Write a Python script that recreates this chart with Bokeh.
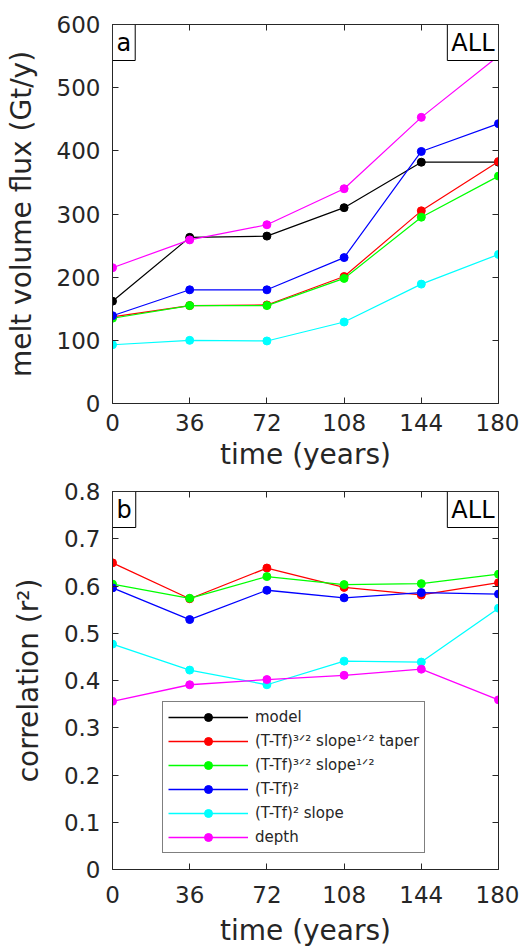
from bokeh.plotting import figure
from bokeh.layouts import column
from bokeh.models import Legend, LegendItem, LinearAxis, Label, FixedTicker, Range1d, ColumnDataSource
from bokeh.embed import file_html
from bokeh.resources import INLINE

# ---------------- data ----------------
time_years = [0, 36, 72, 108, 144, 180]
x_ticks = [0, 36, 72, 108, 144, 180]
flux_ticks = [0, 100, 200, 300, 400, 500, 600]
corr_ticks = [0, 0.1, 0.2, 0.3, 0.4, 0.5, 0.6, 0.7, 0.8]

series_names = [
    "model",
    "(T-Tf)³ᐟ² slope¹ᐟ² taper",
    "(T-Tf)³ᐟ² slope¹ᐟ²",
    "(T-Tf)²",
    "(T-Tf)² slope",
    "depth",
]
series_colors = ["#000000", "#FF0000", "#00FF00", "#0000FF", "#00FFFF", "#FF00FF"]

flux_model = [162, 263, 265, 310, 382, 382]
flux_t32_s12_taper = [137, 155, 156, 201, 305, 383]
flux_t32_s12 = [135, 155, 155, 198, 295, 360]
flux_t2 = [139, 180, 180, 231, 399, 443]
flux_t2_slope = [93, 100, 99, 129, 189, 236]
flux_depth = [215, 259, 283, 340, 453, 550]

corr_model = [1.0, 1.0, 1.0, 1.0, 1.0, 1.0]  # model vs itself, above the axis range
corr_t32_s12_taper = [0.649, 0.573, 0.638, 0.597, 0.581, 0.607]
corr_t32_s12 = [0.604, 0.574, 0.620, 0.603, 0.605, 0.625]
corr_t2 = [0.596, 0.529, 0.591, 0.575, 0.586, 0.583]
corr_t2_slope = [0.477, 0.422, 0.391, 0.441, 0.439, 0.553]
corr_depth = [0.356, 0.391, 0.402, 0.411, 0.424, 0.359]

flux_series = [flux_model, flux_t32_s12_taper, flux_t32_s12, flux_t2, flux_t2_slope, flux_depth]
corr_series = [corr_model, corr_t32_s12_taper, corr_t32_s12, corr_t2, corr_t2_slope, corr_depth]

FONT = "DejaVu Sans"
TXT = "#262626"
TICK_FS = "23px"
LABEL_FS = "28px"


def style_axes(p, ylabel, yticks, x_std, x_lab_std):
    p.xaxis.ticker = FixedTicker(ticks=x_ticks)
    p.yaxis.ticker = FixedTicker(ticks=yticks)
    for ax in p.xaxis + p.yaxis:
        ax.major_tick_in = 6
        ax.major_tick_out = 0
        ax.minor_tick_line_color = None
        ax.axis_line_color = TXT
        ax.major_tick_line_color = TXT
        ax.major_label_text_font = FONT
        ax.major_label_text_font_size = TICK_FS
        ax.major_label_text_color = TXT
        ax.axis_label_text_font = FONT
        ax.axis_label_text_font_size = LABEL_FS
        ax.axis_label_text_font_style = "normal"
        ax.axis_label_text_color = TXT
    p.xaxis.axis_label = "time (years)"
    p.xaxis.major_label_standoff = x_std
    p.xaxis.axis_label_standoff = x_lab_std
    p.yaxis.axis_label = ylabel
    p.yaxis.major_label_standoff = 12
    p.yaxis.axis_label_standoff = 16
    # mirrored axes (box with ticks)
    top = LinearAxis(ticker=FixedTicker(ticks=x_ticks), major_label_text_font_size="0px",
                     major_tick_in=6, major_tick_out=0, minor_tick_line_color=None,
                     axis_line_color=TXT, major_tick_line_color=TXT, major_label_standoff=0)
    right = LinearAxis(ticker=FixedTicker(ticks=yticks), major_label_text_font_size="0px",
                       major_tick_in=6, major_tick_out=0, minor_tick_line_color=None,
                       axis_line_color=TXT, major_tick_line_color=TXT, major_label_standoff=0)
    top.major_label_overrides = {t: "" for t in x_ticks}
    right.major_label_overrides = {t: "" for t in yticks}
    p.add_layout(top, "above")
    p.add_layout(right, "right")
    p.xgrid.grid_line_color = None
    p.ygrid.grid_line_color = None
    p.outline_line_color = None


def corner_labels(p, xmax, ymax, letter):
    la = Label(x=0, y=ymax, text=letter, text_align="left", text_baseline="top",
               text_font=FONT, text_font_size="24px", text_color="black",
               padding=4,
               border_line_color="black", border_line_width=1, background_fill_color="white")
    lb = Label(x=xmax, y=ymax, text="ALL", text_align="right", text_baseline="top",
               text_font=FONT, text_font_size="24px", text_color="black",
               padding=4,
               border_line_color="black", border_line_width=1, background_fill_color="white")
    p.add_layout(la)
    p.add_layout(lb)


def make_fig(ylabel, yrange, yticks, frame_h, min_top, min_bottom, x_std, x_lab_std):
    p = figure(frame_width=386, frame_height=frame_h, x_range=Range1d(0, 180), y_range=Range1d(*yrange),
               output_backend="svg", toolbar_location=None, min_border_left=112,
               min_border_right=21, min_border_top=min_top, min_border_bottom=min_bottom)
    p.background_fill_color = "white"
    p.border_fill_color = "white"
    style_axes(p, ylabel, yticks, x_std, x_lab_std)
    return p


# ---------------- panel a ----------------
pa = make_fig("melt volume flux (Gt/y)", (0, 600), flux_ticks, 379, 24, 40, 10, 4)
for vals, col in zip(flux_series, series_colors):
    pa.line(time_years, vals, line_color=col, line_width=1.2)
    pa.scatter(time_years, vals, size=8, fill_color=col, line_color=col)
corner_labels(pa, 180, 600, "a")

# ---------------- panel b ----------------
pb = make_fig("correlation (r²)", (0, 0.8), corr_ticks, 378, 18, 40, 16, 8)
items = []
for vals, col, name in zip(corr_series, series_colors, series_names):
    src = ColumnDataSource(dict(x=time_years, y=vals))
    r1 = pb.line("x", "y", source=src, line_color=col, line_width=1.3)
    r2 = pb.scatter("x", "y", source=src, size=8, fill_color=col, line_color=col)
    items.append(LegendItem(label=name, renderers=[r1, r2]))
corner_labels(pb, 180, 0.8, "b")

leg = Legend(items=items, location=(50, 16), label_text_font=FONT, label_text_font_size="15px",
             label_text_color=TXT, glyph_width=80, glyph_height=20, label_height=20,
             spacing=4, padding=5, margin=0, label_standoff=7,
             border_line_color="black", border_line_width=1, background_fill_color="white",
             background_fill_alpha=1.0)
pb.add_layout(leg, "center")

layout = column(pa, pb, spacing=0)
open("out.html", "w").write(file_html(layout, INLINE))
